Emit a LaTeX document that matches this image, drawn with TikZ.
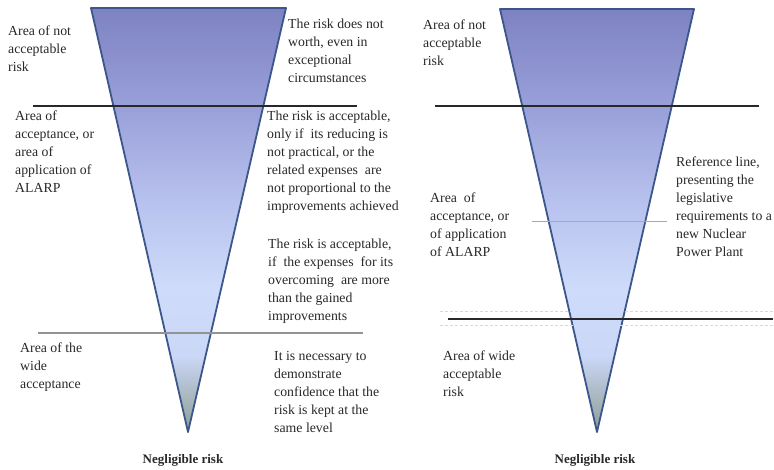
\documentclass[tikz,border=0pt]{standalone}
\usepackage{fontspec}
\setmainfont{Liberation Serif}
\usetikzlibrary{calc}

% colours of the funnel fill, from the apex up to the wide top
\definecolor{tipgray}{RGB}{140,158,152}
\definecolor{lowgray}{RGB}{168,182,190}
\definecolor{paleblue}{RGB}{203,215,247}
\definecolor{lightblue}{RGB}{206,219,250}
\definecolor{midblue}{RGB}{184,194,238}
\definecolor{upperblue}{RGB}{154,161,218}
\definecolor{topblue}{RGB}{126,130,194}
\definecolor{edgeblue}{RGB}{58,86,138}
\definecolor{inkgray}{RGB}{40,40,40}
\definecolor{refline}{RGB}{150,172,200}

\pgfdeclareverticalshading{funnelfill}{100bp}{%
  color(0bp)=(tipgray); color(25bp)=(tipgray); color(29bp)=(lowgray);
  color(34bp)=(paleblue); color(42bp)=(lightblue); color(52bp)=(midblue);
  color(63bp)=(upperblue); color(75bp)=(topblue); color(100bp)=(topblue)}

\tikzset{
  funnel/.style={draw=edgeblue, line width=1.8pt, line join=round, shading=funnelfill},
  label/.style={anchor=north west, inner sep=0pt, align=left, text=inkgray,
    font=\fontsize{13.8}{18}\selectfont},
  caption/.style={anchor=center, inner sep=0pt, text=inkgray,
    font=\fontsize{13}{16}\selectfont\bfseries},
  divider/.style={draw=inkgray, line width=1.2pt},
  softdivider/.style={draw=gray!85, line width=1.2pt},
  thinref/.style={draw=refline, line width=0.8pt},
  faintdash/.style={draw=gray!30, line width=0.8pt, dash pattern=on 3pt off 2pt},
}

\begin{document}
\begin{tikzpicture}[x=1pt, y=-1pt]
  \useasboundingbox (0,0) rectangle (774,469);

  % ---------- left funnel ----------
  \coordinate (ltl) at (91,8);
  \coordinate (ltr) at (286,8);
  \coordinate (lapex) at (188,432);
  \path[funnel] (ltl) -- (ltr) -- (lapex) -- cycle;

  \coordinate (lu1) at (33,106);  \coordinate (lu2) at (357,106);
  \coordinate (ll1) at (38,333);  \coordinate (ll2) at (363,333);
  \draw[divider] (lu1) -- (lu2);
  \draw[softdivider] (ll1) -- (ll2);

  \node[label] (lnot) at (8,25.7) {Area of not\\acceptable\\risk};
  \node[label] (lalarp) at (15,110.7) {Area of\\acceptance, or\\area of\\application of\\ALARP};
  \node[label] (lwide) at (20,342.7) {Area of the\\wide\\acceptance};

  \node[label] (lworth) at (288,18.7) {The risk does not\\worth, even in\\exceptional\\circumstances};
  \node[label] (lonly) at (267,110.7) {The risk is acceptable,\\only if\ \ its reducing is\\not practical, or the\\related expenses\ \ are\\not proportional to the\\improvements achieved};
  \node[label] (lif) at (268,238.7) {The risk is acceptable,\\if\ \ the expenses\ \ for its\\overcoming\ \ are more\\than the gained\\improvements};
  \node[label] (lconf) at (274,350.7) {It is necessary to\\demonstrate\\confidence that the\\risk is kept at the\\same level};

  \node[caption] (lneg) at (183,460) {Negligible risk};

  % ---------- right funnel ----------
  \coordinate (rtl) at (500,9);
  \coordinate (rtr) at (694,9);
  \coordinate (rapex) at (597,432);
  \path[funnel] (rtl) -- (rtr) -- (rapex) -- cycle;

  \coordinate (ru1) at (435,106); \coordinate (ru2) at (759,106);
  \coordinate (rr1) at (532,221); \coordinate (rr2) at (667,221);
  \coordinate (rl1) at (448,319); \coordinate (rl2) at (773,319);
  \draw[divider] (ru1) -- (ru2);
  \draw[thinref] (rr1) -- (rr2);
  \draw[faintdash] ($(rl1)+(-8,-8)$) -- ($(rl2)+(0,-8)$);
  \draw[faintdash] ($(rl1)+(-8,6)$) -- ($(rl2)+(0,6)$);
  \draw[divider] (rl1) -- (rl2);

  \node[label] (rnot) at (423,19.7) {Area of not\\acceptable\\risk};
  \node[label] (ralarp) at (430,192.7) {Area\ \ of\\acceptance, or\\of application\\of ALARP};
  \node[label] (rref) at (676,156.7) {Reference line,\\presenting the\\legislative\\requirements to a\\new Nuclear\\Power Plant};
  \node[label] (rwide) at (443,350.7) {Area of wide\\acceptable\\risk};

  \node[caption] (rneg) at (595,460) {Negligible risk};
\end{tikzpicture}
\end{document}
